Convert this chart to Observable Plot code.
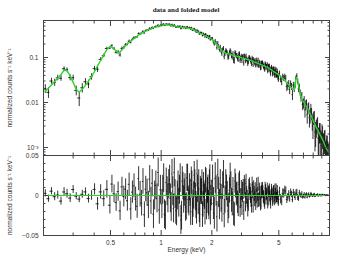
<!DOCTYPE html>
<html>
<head>
<meta charset="utf-8">
<script src="https://cdn.jsdelivr.net/npm/d3@7"></script>
<script src="https://cdn.jsdelivr.net/npm/@observablehq/plot@0.6"></script>
<style>
html,body{margin:0;padding:0;background:#fff;}
#wrap{position:relative;width:341px;height:257px;overflow:hidden;background:#fff;}
#title{position:absolute;left:43px;width:286px;top:6px;text-align:center;font:bold 7px "Liberation Serif","DejaVu Serif",serif;color:#222;line-height:8px;}
#top{position:absolute;left:0;top:0;}
#bot{position:absolute;left:0;top:150px;}
</style>
</head>
<body>
<div id="wrap"><div id="top"></div><div id="bot"></div><div id="title">data and folded model</div></div>
<script>
// ---- Coarse channel set: bin centre energies (keV)
const energy = [0.205,0.214,0.223,0.233,0.243,0.254,0.265,0.276,0.288,0.300,0.313,0.326,0.340,0.355,0.370,0.386,0.402,0.419,0.437,0.456,0.476,0.496,
0.510,0.525,0.540,0.555,0.570,0.585,0.600,0.615,0.630,0.645,0.660,0.675,0.690,0.705,0.720,0.735,0.750,0.765,0.780,0.795,0.810,0.825,0.840,0.855,0.870,0.885,0.900,0.915,0.930,0.945,0.960,0.975,0.990,
1.010,1.035,1.060,1.085,1.110,1.135,1.160,1.185,1.210,1.235,1.260,1.285,1.310,1.335,1.360,1.385,1.410,1.435,1.460,1.485,1.510,1.535,1.560,1.585,1.610,1.635,1.660,1.685,1.710,1.735,1.760,1.785,1.810,1.835,1.860,1.885,1.910,1.935,1.960,1.985,
2.02,2.07,2.12,2.17,2.22,2.27,2.32,2.37,2.42,2.47,2.52,2.57,2.62,2.67,2.72,2.77,2.82,2.87,2.92,2.97,3.02,3.07,3.12,3.17,3.22,3.27,3.32,3.37,3.42,3.47,3.52,3.57,3.62,3.67,3.72,3.77,3.82,3.87,3.92,3.97,4.02,4.07,4.12,4.17,4.22,4.27,4.32,4.37,4.42,4.47,4.52,4.57,4.62,4.67,4.72,4.77,4.82,4.87,4.92,4.97,
5.05,5.20,5.35,5.50,5.65,5.80,5.95,6.10,6.25,6.40,6.55,6.70,6.85,7.00,7.15,7.30,7.45,7.60,7.75,7.90,8.05,8.20,8.35,8.50,8.65,8.80,8.95,9.10,9.25,9.40,9.55,9.70,9.85];

// Folded model (normalized counts s^-1 keV^-1)
const model = [0.0176,0.0208,0.0246,0.0294,0.0348,0.0417,0.052,0.051,0.0390,0.0280,0.0195,0.0171,0.0197,0.0244,0.0297,0.0374,0.0489,0.0651,0.0858,0.1134,0.151,0.173,
0.168,0.155,0.139,0.126,0.133,0.148,0.166,0.183,0.202,0.216,0.232,0.247,0.263,0.280,0.297,0.316,0.332,0.348,0.361,0.372,0.385,0.397,0.409,0.422,0.435,0.448,0.461,0.469,0.476,0.484,0.491,0.499,0.507,
0.516,0.528,0.539,0.533,0.526,0.518,0.507,0.499,0.491,0.484,0.476,0.471,0.464,0.461,0.458,0.456,0.452,0.448,0.446,0.443,0.435,0.422,0.410,0.398,0.386,0.376,0.365,0.355,0.344,0.336,0.327,0.319,0.311,0.303,0.295,0.288,0.281,0.274,0.268,0.258,
0.241,0.221,0.202,0.181,0.162,0.144,0.134,0.129,0.125,0.122,0.120,0.117,0.115,0.112,0.110,0.108,0.106,0.104,0.102,0.100,0.098,0.0965,0.0945,0.0932,0.0912,0.0898,0.0884,0.0871,0.0858,0.0836,0.0819,0.0798,0.0782,0.0766,0.0751,0.0736,0.0720,0.0706,0.0692,0.0681,0.0668,0.0654,0.0644,0.0631,0.0618,0.0609,0.0596,0.0578,0.0561,0.0544,0.0530,0.0514,0.0501,0.0486,0.0474,0.0462,0.0448,0.0437,0.0426,0.0415,
0.0398,0.0363,0.0324,0.0290,0.0260,0.0234,0.0212,0.0205,0.0264,0.0359,0.0239,0.0158,0.0120,0.0105,0.0091,0.0080,0.0070,0.0060,0.0052,0.0044,0.0038,0.0033,0.0028,0.0025,0.0022,0.0019,0.0017,0.0015,0.0013,0.0011,0.00097,0.00088,0.00080];

// Residuals (data - model)
const residual = [0.0027,-0.0040,0.0054,-0.0015,0.0005,-0.0070,0.0044,0.0022,-0.0033,0.0075,-0.0009,-0.0045,0.0015,0.0045,-0.0039,0.0000,0.0077,-0.0104,0.0045,-0.0040,0.0077,-0.0121,
0.0143,0.0022,-0.0088,0.0048,-0.0192,0.0108,-0.0013,0.0078,-0.0065,0.0140,-0.0168,0.0042,0.0120,-0.0045,-0.0135,0.0210,0.0016,-0.0096,0.0176,-0.0240,0.0080,0.0034,-0.0119,0.0204,-0.0068,0.0153,-0.0234,0.0000,0.0126,-0.0036,0.0288,-0.0180,0.0072,
-0.0108,0.0216,-0.0252,0.0054,0.0144,-0.0036,0.0270,-0.0162,0.0018,-0.0198,0.0126,0.0072,-0.0306,0.0180,-0.0051,0.0102,-0.0136,0.0221,-0.0085,0.0034,0.0187,-0.0204,0.0000,0.0153,-0.0119,0.0272,-0.0068,-0.0170,0.0080,0.0048,-0.0240,0.0128,-0.0016,0.0192,-0.0144,0.0064,-0.0096,0.0160,-0.0208,0.0032,
0.0180,-0.0220,0.0056,0.0263,-0.0113,-0.0035,0.0123,-0.0228,0.0163,0.0016,-0.0130,0.0244,-0.0060,0.0075,-0.0240,0.0120,0.0028,-0.0124,0.0165,-0.0038,-0.0125,0.0075,0.0131,-0.0084,0.0000,-0.0158,0.0096,0.0043,-0.0050,0.0130,-0.0120,0.0019,0.0066,-0.0010,-0.0070,0.0140,-0.0053,0.0025,-0.0091,0.0081,0.0040,-0.0031,-0.0098,0.0060,0.0008,0.0085,-0.0063,0.0041,-0.0014,-0.0101,0.0073,0.0020,-0.0045,0.0058,-0.0064,0.0025,0.0081,-0.0031,0.0000,-0.0074,
0.0043,-0.0069,0.0023,0.0056,-0.0024,-0.0040,0.0013,0.0038,-0.0024,0.0034,-0.0039,0.0005,0.0023,-0.0010,-0.0023,0.0013,0.0003,-0.0014,0.0021,-0.0005,0.0008,-0.0011,0.0000,0.0009,-0.0006,0.0004,-0.0006,0.0004,-0.0001,0.0005,-0.0002,0.0002,-0.0002];

// 1-sigma errors
const error = [0.0045,0.0045,0.0045,0.005,0.005,0.005,0.0055,0.0055,0.0055,0.005,0.0045,0.0045,0.005,0.005,0.0055,0.006,0.007,0.008,0.009,0.010,0.011,0.011,
0.011,0.011,0.011,0.012,0.012,0.012,0.013,0.013,0.013,0.014,0.014,0.014,0.015,0.015,0.015,0.015,0.016,0.016,0.016,0.016,0.016,0.017,0.017,0.017,0.017,0.017,0.018,0.018,0.018,0.018,0.018,0.018,0.018,
0.018,0.018,0.018,0.018,0.018,0.018,0.018,0.018,0.018,0.018,0.018,0.018,0.018,0.018,0.017,0.017,0.017,0.017,0.017,0.017,0.017,0.017,0.017,0.017,0.017,0.017,0.017,0.017,0.016,0.016,0.016,0.016,0.016,0.016,0.016,0.016,0.016,0.016,0.016,0.016,
0.020,0.020,0.019,0.019,0.019,0.0175,0.0175,0.0175,0.016,0.016,0.016,0.016,0.015,0.015,0.015,0.015,0.014,0.014,0.014,0.0125,0.0125,0.0125,0.012,0.012,0.011,0.011,0.0105,0.0105,0.010,0.010,0.010,0.0094,0.0094,0.0094,0.0088,0.0088,0.0088,0.0085,0.0083,0.0081,0.008,0.0078,0.0075,0.0075,0.0073,0.0071,0.007,0.0069,0.0069,0.0068,0.0066,0.0065,0.0065,0.0064,0.0064,0.0063,0.0063,0.0063,0.0061,0.0061,
0.006,0.0058,0.0055,0.0051,0.0048,0.0044,0.004,0.0038,0.0039,0.0043,0.0035,0.0028,0.0025,0.0024,0.0023,0.0021,0.002,0.0019,0.0018,0.0016,0.0015,0.0014,0.0012,0.0012,0.0011,0.0011,0.001,0.001,0.0008,0.0008,0.0007,0.0007,0.0006];

// ---- Interleaved channels above 1 keV (finer binning there)
const energyFine = [1.022,1.047,1.072,1.097,1.122,1.147,1.172,1.197,1.222,1.247,1.272,1.297,1.322,1.347,1.372,1.397,1.422,1.447,1.472,1.497,1.522,1.547,1.572,1.597,1.622,1.647,1.672,1.697,1.722,1.747,1.772,1.797,1.822,1.847,1.872,1.897,1.922,1.947,1.972,
2.045,2.095,2.145,2.195,2.245,2.295,2.345,2.395,2.445,2.495,2.545,2.595,2.645,2.695,2.745,2.795,2.845,2.895,2.945,2.995,3.045,3.095,3.145,3.195,3.245,3.295,3.345,3.395,3.445,3.495,3.545,3.595,3.645,3.695,3.745,3.795,3.845,3.895,3.945,3.995,4.045,4.095,4.145,4.195,4.245,4.295,4.345,4.395,4.445,4.495,4.545,4.595,4.645,4.695,4.745,4.795,4.845,4.895,4.945,
5.125,5.275,5.425,5.575,5.725,5.875,6.025,6.175,6.325,6.475,6.625,6.775,6.925,7.075,7.225,7.375,7.525,7.675,7.825,7.975,8.125,8.275,8.425,8.575,8.725,8.875,9.025,9.175,9.325,9.475,9.625,9.775];

const modelFine = [0.522,0.534,0.536,0.530,0.522,0.513,0.503,0.495,0.488,0.480,0.474,0.468,0.463,0.460,0.457,0.454,0.450,0.447,0.445,0.439,0.429,0.416,0.404,0.392,0.381,0.371,0.360,0.350,0.340,0.332,0.323,0.315,0.307,0.299,0.292,0.285,0.278,0.271,0.263,
0.231,0.211,0.191,0.171,0.153,0.139,0.131,0.127,0.1235,0.121,0.1185,0.116,0.1135,0.111,0.109,0.107,0.105,0.103,0.101,0.099,0.0972,0.0955,0.0938,0.0922,0.0905,0.0891,0.0877,0.0864,0.0847,0.0827,0.0808,0.0790,0.0774,0.0758,0.0743,0.0728,0.0713,0.0699,0.0686,0.0674,0.0661,0.0649,0.0637,0.0624,0.0613,0.0602,0.0587,0.0569,0.0552,0.0537,0.0522,0.0507,0.0493,0.0480,0.0468,0.0455,0.0442,0.0431,0.0420,
0.0380,0.0343,0.0307,0.0275,0.0247,0.0222,0.0200,0.0196,0.0320,0.0310,0.0190,0.0138,0.0112,0.0098,0.0085,0.0075,0.0065,0.0056,0.0048,0.0041,0.0035,0.0030,0.0026,0.0023,0.0020,0.0018,0.0016,0.0014,0.0012,0.00103,0.00092,0.00084];

const residualFine = [0.0072,-0.0234,0.0162,-0.0036,0.0198,-0.0144,0.0054,0.0288,-0.0180,0.0000,-0.0090,0.0216,-0.0252,0.0119,0.0034,-0.0153,0.0221,-0.0051,0.0102,-0.0204,0.0136,-0.0102,0.0255,-0.0017,-0.0187,0.0085,0.0153,-0.0240,0.0048,0.0160,-0.0112,0.0016,-0.0208,0.0176,-0.0064,0.0096,-0.0144,0.0224,-0.0032,
-0.0100,0.0215,-0.0266,0.0038,0.0144,-0.0158,0.0263,-0.0051,0.0096,-0.0192,0.0064,0.0140,-0.0105,-0.0225,0.0180,0.0015,-0.0084,0.0140,-0.0143,0.0063,0.0038,-0.0192,0.0084,0.0150,-0.0044,-0.0088,0.0116,0.0000,-0.0120,0.0060,0.0087,-0.0047,-0.0094,0.0127,0.0018,-0.0062,0.0069,-0.0109,0.0041,0.0080,-0.0016,-0.0069,0.0090,-0.0044,0.0022,-0.0098,0.0049,0.0076,-0.0054,0.0000,0.0039,-0.0072,0.0058,-0.0019,0.0082,-0.0044,-0.0025,0.0062,-0.0055,
-0.0047,0.0028,0.0064,-0.0050,0.0014,0.0038,-0.0051,0.0008,0.0029,-0.0023,0.0034,-0.0010,-0.0022,0.0014,0.0002,-0.0022,0.0015,-0.0005,0.0009,-0.0011,0.0014,-0.0007,0.0005,-0.0007,0.0003,-0.0004,0.0006,-0.0003,0.0003,-0.0004,0.0002,-0.0001];

const errorFine = [0.018,0.018,0.018,0.018,0.018,0.018,0.018,0.018,0.018,0.018,0.018,0.018,0.018,0.017,0.017,0.017,0.017,0.017,0.017,0.017,0.017,0.017,0.017,0.017,0.017,0.017,0.017,0.016,0.016,0.016,0.016,0.016,0.016,0.016,0.016,0.016,0.016,0.016,0.016,
0.020,0.0195,0.019,0.019,0.018,0.0175,0.0175,0.017,0.016,0.016,0.016,0.0155,0.015,0.015,0.015,0.0145,0.014,0.014,0.013,0.0125,0.0125,0.012,0.012,0.0115,0.011,0.011,0.0105,0.010,0.010,0.010,0.0097,0.0094,0.0094,0.0091,0.0088,0.0088,0.0086,0.0084,0.0082,0.008,0.0079,0.0077,0.0075,0.0074,0.0072,0.007,0.007,0.0069,0.0068,0.0067,0.0065,0.0065,0.0064,0.0064,0.0063,0.0063,0.0063,0.0062,0.0061,
0.0059,0.0056,0.0053,0.005,0.0046,0.0042,0.0039,0.0038,0.0041,0.0039,0.0031,0.0026,0.0024,0.0023,0.0022,0.002,0.0019,0.0018,0.0017,0.0015,0.0014,0.0013,0.0012,0.0011,0.0011,0.001,0.001,0.0009,0.0008,0.0007,0.0007,0.0006];

// ---- Axis ticks and labels
const xTickLabels = [0.5, 1, 2, 5];
const xTickText = ["0.5", "1", "2", "5"];
const xMinorTicks = [0.2,0.3,0.4,0.6,0.7,0.8,0.9,3,4,6,7,8,9];
const yMajorTicks = [0.001, 0.01, 0.1];
const yMajorLabels = ["10\u207B\u00B3", "0.01", "0.1"];
const yMinorTicks = [0.0007,0.0008,0.0009,0.002,0.003,0.004,0.005,0.006,0.007,0.008,0.009,0.02,0.03,0.04,0.05,0.06,0.07,0.08,0.09,0.2,0.3,0.4,0.5,0.6];
const rMajorTicks = [-0.05, 0, 0.05];
const rMajorLabels = ["\u22120.05", "0", "0.05"];
const rMinorTicks = [-0.04,-0.03,-0.02,-0.01,0.01,0.02,0.03,0.04];
const titleText = "data and folded model";
const yLabel = "normalized counts s\u207B\u00B9 keV\u207B\u00B9";
const xLabel = "Energy (keV)";

if (![model, residual, error].every(a => a.length === energy.length) ||
    ![modelFine, residualFine, errorFine].every(a => a.length === energyFine.length)) {
  throw new Error("length mismatch " + [energy.length, model.length, residual.length, error.length, energyFine.length, modelFine.length, residualFine.length, errorFine.length].join(","));
}

const channels = [
  ...energy.map((E, i) => ({E, model: model[i], res: residual[i], err: error[i]})),
  ...energyFine.map((E, i) => ({E, model: modelFine[i], res: residualFine[i], err: errorFine[i]}))
].sort((a, b) => a.E - b.E);

const rows = channels.map((c, i) => {
  const prev = i > 0 ? channels[i - 1].E : c.E - (channels[1].E - c.E);
  const next = i < channels.length - 1 ? channels[i + 1].E : c.E + (c.E - channels[i - 1].E);
  const data = c.model + c.res;
  return {
    ...c, data,
    lo: Math.max(data - c.err, 1e-6), hi: data + c.err,
    rlo: c.res - c.err, rhi: c.res + c.err,
    x1: (prev + c.E) / 2, x2: (c.E + next) / 2
  };
});

document.getElementById("title").textContent = titleText;

const style = {background: "transparent", fontFamily: '"Liberation Sans", Arial, sans-serif', fontSize: "6.5px", color: "#333", overflow: "visible"};
const dataColor = "#000";
const modelColor = "#2bd62b";
const frameColor = "#444";
const barOpacity = 0.8;
const barWidth = 1;

function tickSet(fn, values, anchor, size) {
  return fn(values, {anchor, tickSize: -size, fill: "none", label: null, stroke: frameColor});
}
function xTicks(anchor) {
  return [tickSet(Plot.axisX, xTickLabels, anchor, 5), tickSet(Plot.axisX, xMinorTicks, anchor, 2.5)];
}

const upper = Plot.plot({
  width: 341, height: 157, marginTop: 20, marginBottom: 2, marginLeft: 43, marginRight: 12,
  style,
  x: {type: "log", domain: [0.2, 10]},
  y: {type: "log", domain: [6.64e-4, 0.664]},
  marks: [
    Plot.ruleX(rows, {x: "E", y1: "lo", y2: "hi", stroke: dataColor, strokeOpacity: barOpacity, strokeWidth: barWidth, clip: true}),
    Plot.ruleY(rows, {y: "data", x1: "x1", x2: "x2", stroke: dataColor, strokeOpacity: barOpacity, strokeWidth: 1, clip: true}),
    Plot.line(rows, {x: "E", y: "model", stroke: modelColor, strokeWidth: 1.4, clip: true}),
    Plot.frame({stroke: frameColor}),
    ...xTicks("top"), ...xTicks("bottom"),
    tickSet(Plot.axisY, yMajorTicks, "left", 5), tickSet(Plot.axisY, yMinorTicks, "left", 2.5),
    tickSet(Plot.axisY, yMajorTicks, "right", 5), tickSet(Plot.axisY, yMinorTicks, "right", 2.5),
    Plot.axisY(yMajorTicks, {anchor: "left", tickSize: 0, tickPadding: 5, fill: "#333",
      tickFormat: d => yMajorLabels[yMajorTicks.indexOf(d)],
      label: yLabel, labelAnchor: "center", labelOffset: 36, labelArrow: "none"})
  ]
});

const lower = Plot.plot({
  width: 341, height: 107, marginTop: 5, marginBottom: 22, marginLeft: 43, marginRight: 12,
  style,
  x: {type: "log", domain: [0.2, 10]},
  y: {domain: [-0.05, 0.05]},
  marks: [
    Plot.ruleX(rows, {x: "E", y1: "rlo", y2: "rhi", stroke: dataColor, strokeOpacity: barOpacity, strokeWidth: barWidth, clip: true}),
    Plot.ruleY(rows, {y: "res", x1: "x1", x2: "x2", stroke: dataColor, strokeOpacity: barOpacity, strokeWidth: 1, clip: true}),
    Plot.ruleY([0], {stroke: modelColor, strokeWidth: 1}),
    Plot.frame({stroke: frameColor}),
    ...xTicks("top"), ...xTicks("bottom"),
    tickSet(Plot.axisY, rMajorTicks, "left", 5), tickSet(Plot.axisY, rMinorTicks, "left", 2.5),
    tickSet(Plot.axisY, rMajorTicks, "right", 5), tickSet(Plot.axisY, rMinorTicks, "right", 2.5),
    Plot.axisY(rMajorTicks, {anchor: "left", tickSize: 0, tickPadding: 5, fill: "#333",
      tickFormat: d => rMajorLabels[rMajorTicks.indexOf(d)],
      label: yLabel, labelAnchor: "center", labelOffset: 36, labelArrow: "none"}),
    Plot.text(xTickLabels, {x: d => d, frameAnchor: "bottom", lineAnchor: "top", dy: 5,
      text: (d, i) => xTickText[i], fill: "#333"}),
    Plot.text([xLabel], {frameAnchor: "bottom", lineAnchor: "top", dy: 12, text: d => d, fill: "#333"})
  ]
});

document.getElementById("top").appendChild(upper);
document.getElementById("bot").appendChild(lower);
</script>
</body>
</html>
